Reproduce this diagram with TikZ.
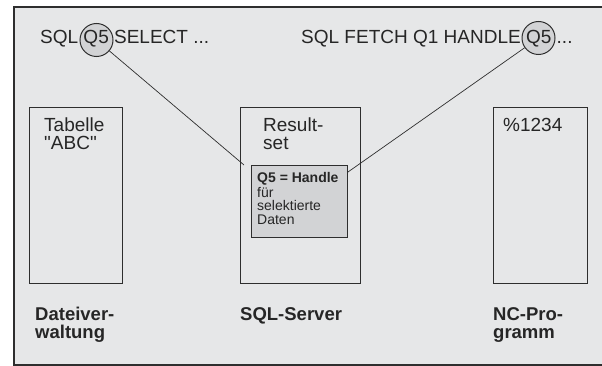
\documentclass[tikz,border=0pt]{standalone}
\usepackage{fontspec}
\setmainfont{Liberation Sans}
\definecolor{bgc}{HTML}{E6E7E8}
\definecolor{hfill}{HTML}{D2D3D5}
\definecolor{linec}{HTML}{2E2E2E}
\definecolor{txtc}{HTML}{262626}
\begin{document}
\begin{tikzpicture}[x=1pt,y=-1pt,
  frame/.style={fill=bgc,draw=linec,line width=1.5pt},
  colbox/.style={draw=linec,line width=1.2pt,anchor=north west,inner sep=0pt,minimum width=#1,minimum height=176pt},
  hbox/.style={draw=linec,fill=hfill,line width=1.2pt,anchor=north west,inner sep=0pt,minimum width=96pt,minimum height=72pt},
  hcirc/.style={circle,draw=linec,fill=hfill,line width=1pt,inner sep=0pt,minimum size=33pt},
  conn/.style={draw=linec,line width=0.7pt},
  lbl/.style={anchor=base west,inner sep=0pt,text=txtc,font=\fontsize{19}{19}\selectfont},
  blbl/.style={anchor=base west,inner sep=0pt,text=txtc,font=\fontsize{18.5}{18.5}\selectfont\bfseries},
  small/.style={anchor=base west,inner sep=0pt,text=txtc,font=\fontsize{14}{14}\selectfont},
  smallb/.style={anchor=base west,inner sep=0pt,text=txtc,font=\fontsize{14}{14}\selectfont\bfseries}]
\useasboundingbox (0,0) rectangle (602,366);
\clip (0,0) rectangle (602,366);
\fill[white] (0,0) rectangle (602,366);
\path[frame] (14,7) rectangle (612,365);
% columns
\node[colbox=93pt] (tab) at (29,107) {};
\node[colbox=120pt] (srv) at (240,107) {};
\node[colbox=94pt] (nc) at (493,107) {};
\node[hbox] (hb) at (251,165) {};
% handle circles
\node[hcirc] (c1) at (96.5,40) {};
\node[hcirc] (c2) at (538.5,38) {};
% top statements
\node[lbl] (s1) at (40,44) {SQL Q5 SELECT ...};
\node[lbl] (s2) at (301,44) {SQL FETCH Q1 HANDLE Q5 ...};
% box texts
\node[lbl] (t1) at (44,132) {Tabelle};
\node[lbl] (t2) at (44,150) {\textquotedbl ABC\textquotedbl};
\node[lbl] (r1) at (263,132) {Result-};
\node[lbl] (r2) at (263,150) {set};
\node[lbl] (p1) at (503,132) {\%1234};
\node[smallb] (h1) at (257,183) {Q5 = Handle};
\node[small] (h2) at (257,197) {für};
\node[small] (h3) at (257,210.5) {selektierte};
\node[small] (h4) at (257,224) {Daten};
% bottom labels
\node[blbl] (d1) at (35,320) {Dateiver-};
\node[blbl] (d2) at (35,338) {waltung};
\node[blbl] (q1) at (240,320) {SQL-Server};
\node[blbl] (n1) at (493,320) {NC-Pro-};
\node[blbl] (n2) at (493,338) {gramm};
% connectors
\coordinate (e1) at (244,165);
\coordinate (e2) at (348,172);
\draw[conn] (c1) -- (e1);
\draw[conn] (c2) -- (e2);
\end{tikzpicture}
\end{document}
